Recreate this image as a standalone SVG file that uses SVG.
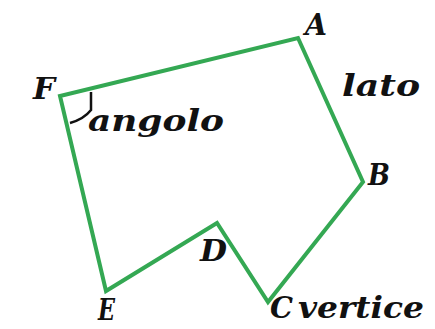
<svg xmlns="http://www.w3.org/2000/svg" width="435" height="329" viewBox="0 0 435 329">
<style>
.edge{fill:none;stroke:#34a853;stroke-width:4;stroke-linejoin:miter}
.lbl{font-family:"DejaVu Serif","Liberation Serif",serif;font-style:italic;font-weight:bold;fill:#111;font-size:29px}
.arc{fill:none;stroke:#111;stroke-width:2.5}
</style>
<rect width="435" height="329" fill="#fff"/>
<g id="connectors">
<polygon class="edge" points="298,38 363,182 268,302 217,223 106,291 60,96"/>
</g>
<g id="A"><text class="lbl" x="305" y="35" textLength="22" lengthAdjust="spacingAndGlyphs">A</text></g>
<g id="B"><text class="lbl" x="368" y="185" textLength="22" lengthAdjust="spacingAndGlyphs">B</text></g>
<g id="C"><text class="lbl" x="270" y="318" textLength="23" lengthAdjust="spacingAndGlyphs">C</text></g>
<g id="D"><text class="lbl" x="200" y="261" textLength="27" lengthAdjust="spacingAndGlyphs">D</text></g>
<g id="E"><text class="lbl" x="98" y="320" font-size="26" textLength="17" lengthAdjust="spacingAndGlyphs">E</text></g>
<g id="F"><text class="lbl" x="33" y="99" textLength="22" lengthAdjust="spacingAndGlyphs">F</text></g>
<g id="lato"><text class="lbl" x="342" y="96" textLength="78" lengthAdjust="spacingAndGlyphs">lato</text></g>
<g id="angolo">
<path class="arc" d="M91,92 L91,110 Q84,119 70,123"/>
<text class="lbl" x="88" y="131" textLength="136" lengthAdjust="spacingAndGlyphs">angolo</text>
</g>
<g id="vertice"><text class="lbl" x="298" y="318" textLength="126" lengthAdjust="spacingAndGlyphs">vertice</text></g>
</svg>
